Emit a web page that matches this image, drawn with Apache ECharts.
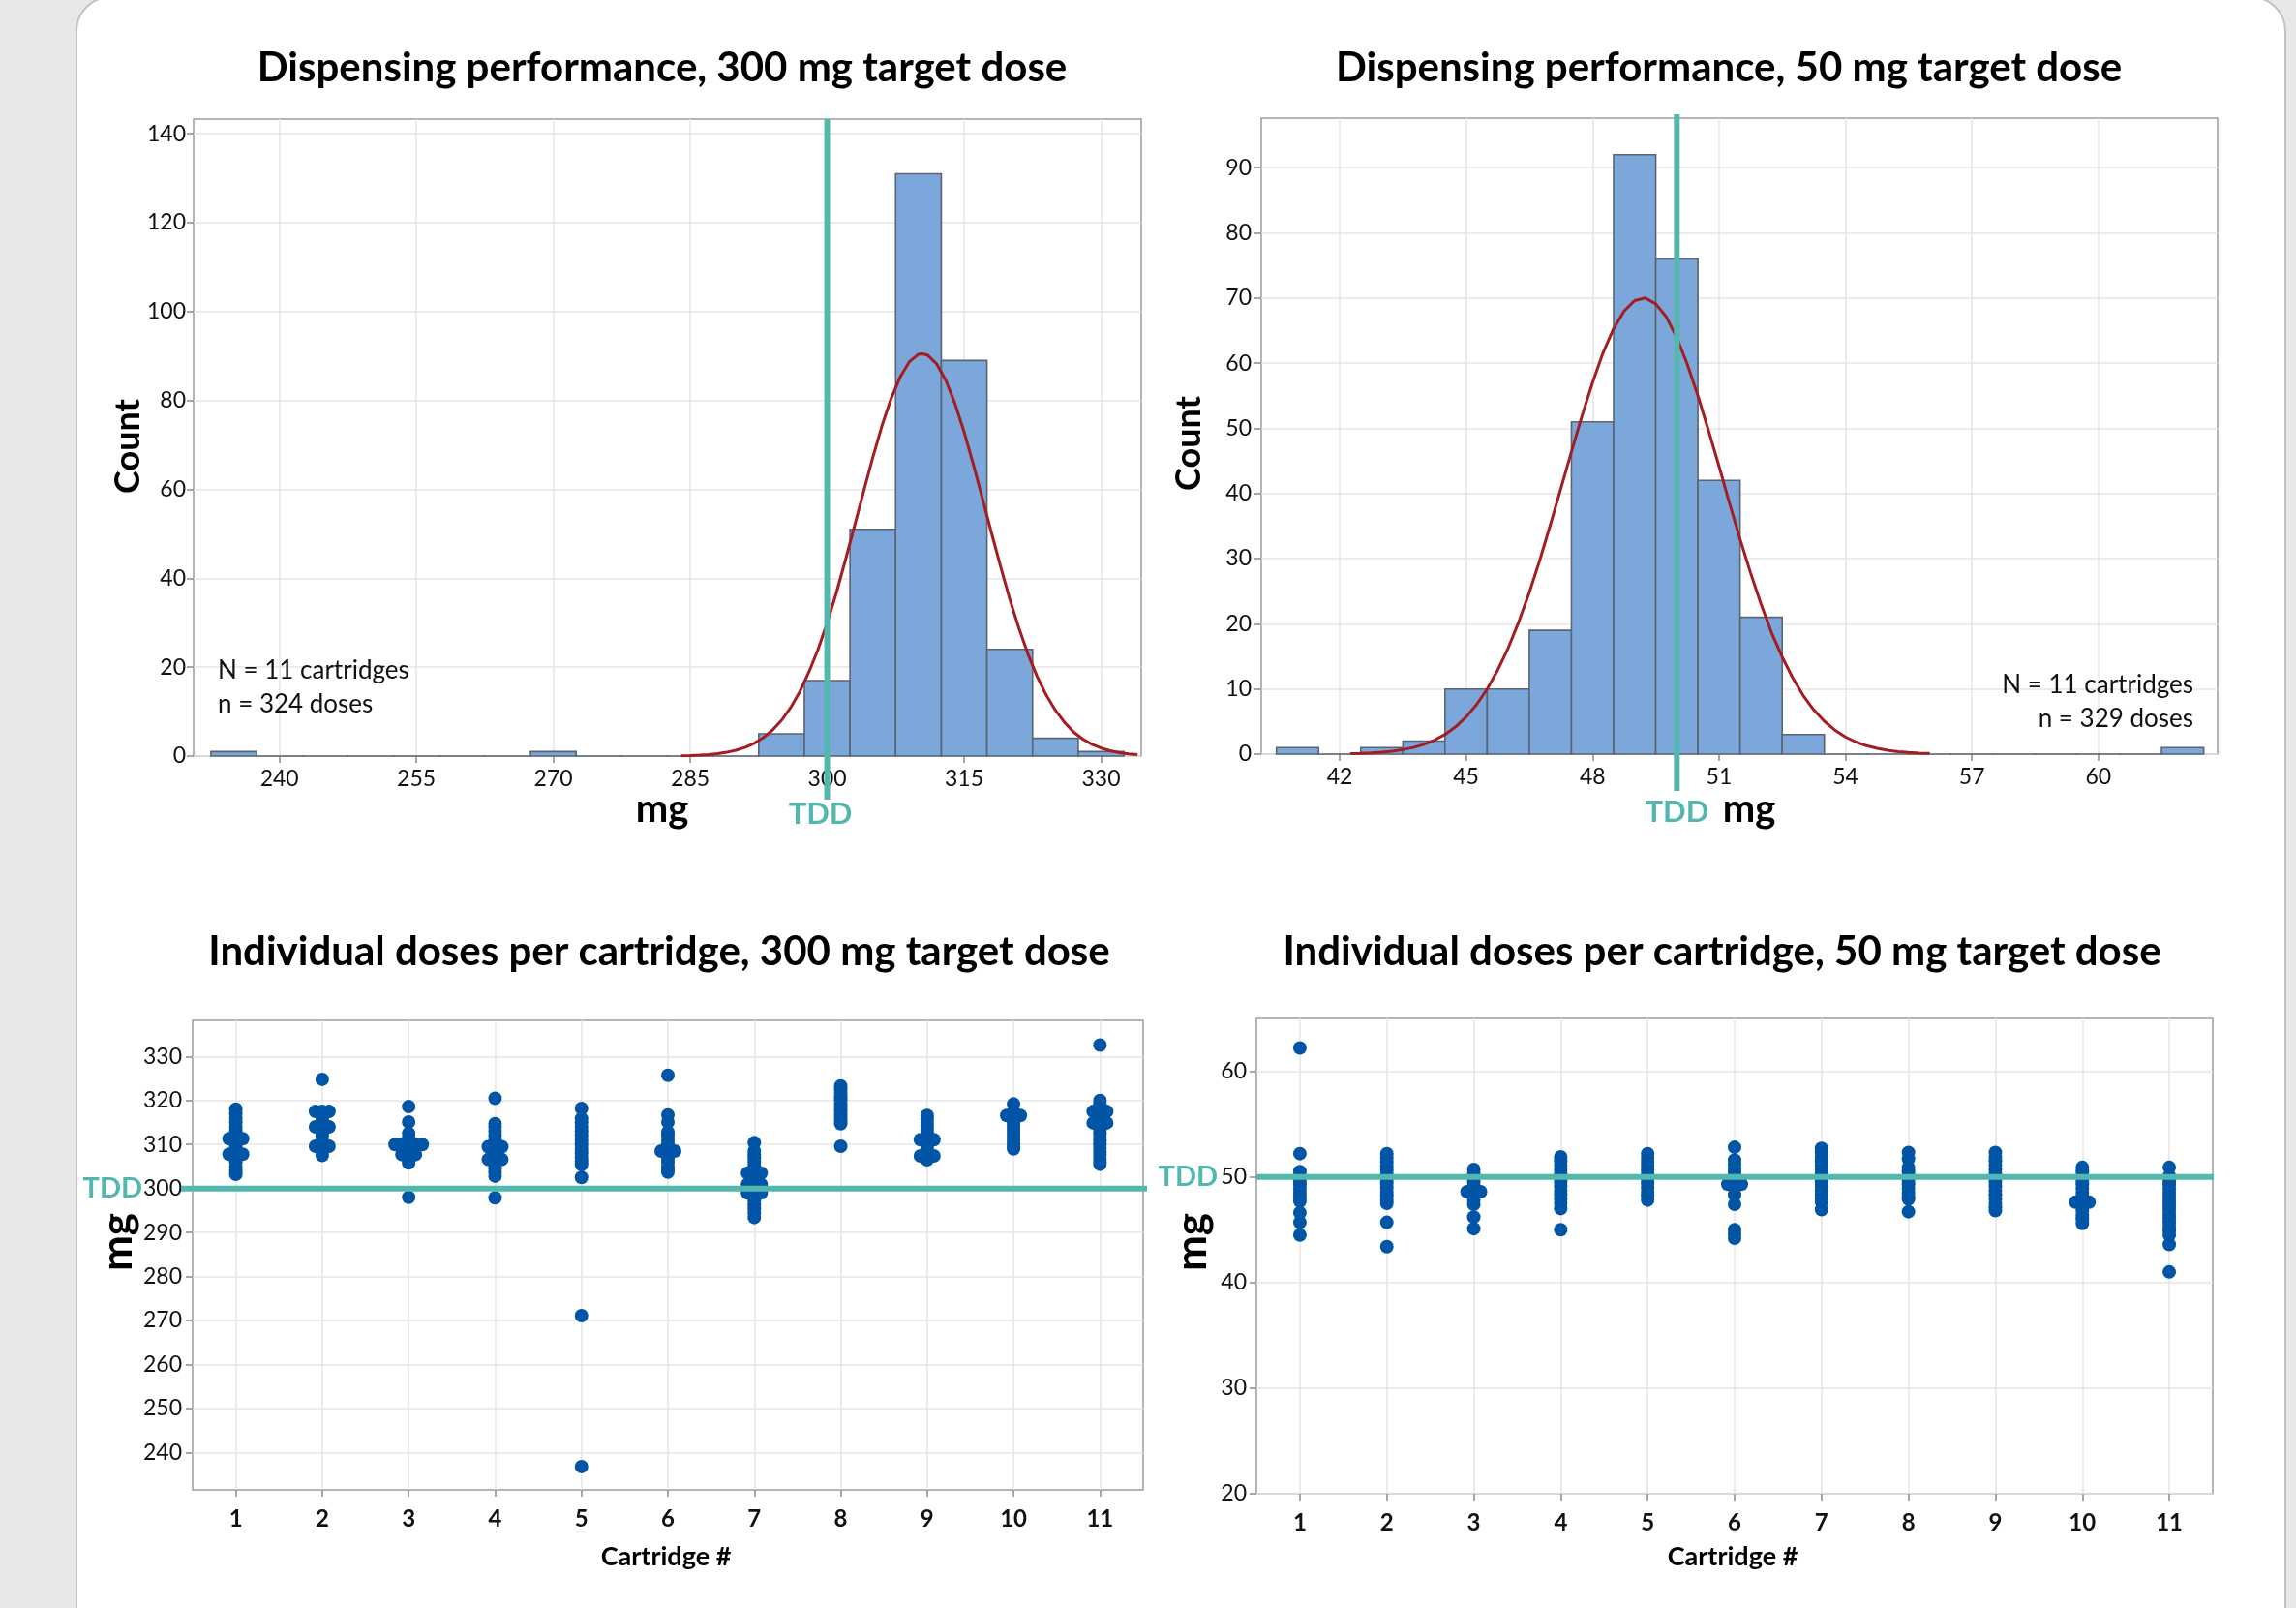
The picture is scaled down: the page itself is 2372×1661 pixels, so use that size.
<!DOCTYPE html>
<html><head><meta charset="utf-8">
<script src="https://cdn.jsdelivr.net/npm/echarts@6/dist/echarts.min.js"></script>
<style>
html,body{margin:0;padding:0;width:2372px;height:1661px;overflow:hidden;background:#e8e8e8;}
#card{position:absolute;left:78px;top:-4px;width:2284px;height:1720px;background:#fff;border:2px solid #c2c2c2;border-radius:36px;box-sizing:border-box;}
#chart{position:absolute;left:0;top:0;width:2372px;height:1661px;}
</style></head><body>
<div id="card"></div><div id="chart"></div>
<script>
// ---------- DATA ----------
// 300 mg histogram (bin centers, counts)
const binCenter300 = [235,240,245,250,255,260,265,270,275,280,285,290,295,300,305,310,315,320,325,330];
const binCount300  = [1,0,0,0,0,0,0,1,0,0,0,0,5,17,51,131,89,24,4,1];
const binWidth300 = 5;
// fitted normal curve
const fitX300 = [284,285,286,287,288,289,290,291,292,293,294,295,296,297,298,299,300,301,302,303,304,305,306,307,308,309,310,310.4,311,312,313,314,315,316,317,318,319,320,321,322,323,324,325,326,327,328,329,330,331,332,333,334];
const fitY300 = [0.07,0.13,0.21,0.34,0.54,0.85,1.3,1.94,2.86,4.12,5.82,8.05,10.9,14.5,18.9,24.0,30.0,36.7,44.1,51.8,59.6,67.2,74.3,80.4,85.3,88.7,90.4,90.5,90.2,88.2,84.5,79.3,72.9,65.7,58.0,50.2,42.6,35.3,28.8,22.9,17.9,13.7,10.3,7.6,5.4,3.8,2.65,1.8,1.19,0.77,0.49,0.31];
const xTicks300 = [240,255,270,285,300,315,330];
const yTicksHist300 = [0,20,40,60,80,100,120,140];

// 50 mg histogram
const binCenter50 = [41,42,43,44,45,46,47,48,49,50,51,52,53,54,55,56,57,58,59,60,61,62];
const binCount50  = [1,0,1,2,10,10,19,51,92,76,42,21,3,0,0,0,0,0,0,0,0,1];
const binWidth50 = 1;
const fitX50 = [42.25,42.5,42.75,43,43.25,43.5,43.75,44,44.25,44.5,44.75,45,45.25,45.5,45.75,46,46.25,46.5,46.75,47,47.25,47.5,47.75,48,48.25,48.5,48.75,49,49.25,49.5,49.75,50,50.25,50.5,50.75,51,51.25,51.5,51.75,52,52.25,52.5,52.75,53,53.25,53.5,53.75,54,54.25,54.5,54.75,55,55.25,55.5,55.75,56];
const fitY50 = [0.07,0.12,0.19,0.30,0.46,0.69,1.02,1.5,2.15,3.02,4.19,5.7,7.61,9.99,12.9,16.3,20.3,24.8,29.8,35.2,40.8,46.4,51.9,57.0,61.6,65.3,68.0,69.6,70.0,69.1,67.1,63.9,59.8,55.0,49.7,44.2,38.5,33.0,27.8,23.0,18.6,14.9,11.7,8.98,6.79,5.05,3.68,2.64,1.86,1.29,0.88,0.59,0.38,0.25,0.16,0.10];
const xTicks50 = [42,45,48,51,54,57,60];
const yTicksHist50 = [0,10,20,30,40,50,60,70,80,90];

const TDD300 = 300;
const TDD50 = 50;

// individual doses per cartridge (repeated values = side-by-side dots)
const cartridges = [1,2,3,4,5,6,7,8,9,10,11];
const doses300 = [
  [318,317,316,315,314,313,312,311.3,311.3,311.3,310.5,309.5,308.5,307.8,307.8,307.8,307,306,305,304,303.2],
  [324.8,317.5,317.5,317.5,316.5,315.5,314,314,314,313,312,311,310.5,309.6,309.6,309.6,308.5,307.5],
  [318.6,315.1,312.5,311.5,310,310,310,310,310,309,308,307.7,307.7,307.7,306.8,305.8,298],
  [320.5,314.7,314,313,312,311,310.3,309.5,309.5,309.5,308.5,307.5,306.6,306.6,306.6,305.5,304.5,303.6,302.8,297.9],
  [318.2,315.9,315,314,313,312,311,310,309,308,307,306.2,305.4,302.5,271.1,236.8],
  [325.7,316.7,315.1,312.8,312,311,310,309.3,308.5,308.5,308.5,307.7,306.8,306,305,304.2,303.7],
  [310.4,308.5,307.7,306.9,306,305.2,304.3,303.5,303.5,303.5,302.5,301.7,300.9,300.9,300.9,300,299,299,299,298.1,297.2,296.3,295.4,294.5,293.4],
  [323.3,322.5,321.7,320.9,320.1,319.3,318.5,317.7,316.9,316.1,315.3,314.7,309.6],
  [316.6,315.7,314.9,314.1,313.3,312.5,311.7,311.1,311.1,311.1,310.3,309.5,308.7,307.9,307.4,307.4,307.4,306.5],
  [319.2,317.5,316.6,316.6,316.6,315.8,315,314.2,313.4,312.6,311.8,311,310.2,309.5,309],
  [332.6,320,319.2,318.4,317.5,317.5,317.5,316.6,315.7,314.9,314.9,314.9,314,313.2,312.4,311.6,310.8,310,309.2,308.4,307.6,306.8,306,305.5]
];
const doses50 = [
  [62.2,52.2,50.5,50.1,49.7,49.3,48.9,48.5,48.1,47.7,46.6,45.7,44.5],
  [52.2,51.8,51.4,51,50.6,50.2,49.8,49.4,49,48.6,48.2,47.8,47.5,45.7,43.4],
  [50.7,50.3,49.9,49.5,49.1,48.6,48.6,48.6,48.2,47.8,47.4,46.2,45.1],
  [51.9,51.5,51.1,50.7,50.3,49.9,49.5,49.1,48.7,48.3,47.9,47.5,47.0,45.0],
  [52.2,51.8,51.4,51,50.6,50.2,49.8,49.4,49,48.6,48.2,47.8],
  [52.8,51.6,51.2,50.8,50.4,50,49.6,49.3,49.3,49.3,48.9,48.3,47.4,45.0,44.6,44.2],
  [52.7,52.3,51.9,51.5,51.1,50.7,50.3,49.9,49.5,49.1,48.7,48.3,47.9,47.6,46.9],
  [52.3,51.7,50.9,50.5,50.1,49.7,49.3,48.9,48.5,48.1,47.9,46.7],
  [52.3,51.9,51.5,51.1,50.7,50.3,49.9,49.5,49.1,48.7,48.3,47.9,47.5,47.1,46.8],
  [50.9,50.5,50.1,49.7,49.3,48.9,48.5,48.1,47.6,47.6,47.6,47.2,46.8,46.4,46.0,45.6],
  [50.9,50.1,49.7,49.3,48.9,48.5,48.1,47.7,47.3,46.9,46.5,46.1,45.7,45.3,44.9,44.5,43.6,41.0]
];
const yTicksDose300 = [240,250,260,270,280,290,300,310,320,330];
const yTicksDose50 = [20,30,40,50,60];

// ---------- STYLE ----------
const FONT = 'Lato, "Open Sans", sans-serif';
const TEAL = '#52b8ad';
const DOT = '#0055a6';
const BAR = '#7ca7da';
const BAR_EDGE = '#5b6471';
const CURVE = '#a31d22';
const GRIDC = '#e6e6e6';

const chart = echarts.init(document.getElementById('chart'), null, {renderer:'canvas'});

function valAxis(idx, min, max, ticks, opts) {
  opts = opts || {};
  return {
    type:'value', gridIndex: idx, min: min, max: max,
    axisLine:{show:false},
    axisTick:{show:true, customValues: ticks, length:7, lineStyle:{color:'#8a8a8a', width:1.5}},
    axisLabel:{customValues: ticks, color:'#111', fontFamily: FONT, fontSize: opts.fontSize || 23,
      fontWeight: opts.fontWeight || 'normal', margin: opts.margin || 10},
    splitLine:{show:true, lineStyle:{color:GRIDC, width:1.5}}
  };
}

function histSeries(idx, centers, counts, width) {
  return {
    type:'custom', xAxisIndex: idx, yAxisIndex: idx, z: 2, silent: true,
    data: centers.map((c,i)=>[c - width/2, c + width/2, counts[i]]),
    encode:{x:[0,1], y:2},
    renderItem: function(params, api) {
      const p0 = api.coord([api.value(0), api.value(2)]);
      const p1 = api.coord([api.value(1), 0]);
      return {type:'rect', shape:{x:p0[0], y:p0[1], width:p1[0]-p0[0], height:Math.max(p1[1]-p0[1],0.01)},
        style:{fill:BAR, stroke:BAR_EDGE, lineWidth:1.6}};
    }
  };
}

function curveSeries(idx, xs, ys) {
  return {type:'line', xAxisIndex: idx, yAxisIndex: idx, z: 3, silent:true, smooth:false, symbol:'none',
    data: xs.map((x,i)=>[x, ys[i]]), lineStyle:{color:CURVE, width:3}};
}

function tddVertical(idx, value, extTop, extBottom, labelDx) {
  return {type:'custom', xAxisIndex: idx, yAxisIndex: idx, z: 10, clip:false, silent:true,
    data:[[value, 0]], encode:{x:0, y:1},
    renderItem: function(params, api) {
      const p = api.coord([api.value(0), 0]);
      const cs = params.coordSys;
      return {type:'group', children:[
        {type:'line', shape:{x1:p[0], y1:cs.y - extTop, x2:p[0], y2:cs.y + cs.height + extBottom},
          style:{stroke:TEAL, lineWidth:6}},
        {type:'text', x:p[0] + labelDx, y:cs.y + cs.height + 60,
          style:{text:'TDD', fill:TEAL, font:'bold 31px ' + FONT, textAlign:'center', textVerticalAlign:'middle'}}
      ]};
    }};
}

function tddHorizontal(idx, value, extLeft, extRight, labelGap) {
  return {type:'custom', xAxisIndex: idx, yAxisIndex: idx, z: 10, clip:false, silent:true,
    data:[[1, value]], encode:{x:0, y:1},
    renderItem: function(params, api) {
      const p = api.coord([1, api.value(1)]);
      const cs = params.coordSys;
      return {type:'group', children:[
        {type:'line', shape:{x1:cs.x - extLeft, y1:p[1], x2:cs.x + cs.width + extRight, y2:p[1]},
          style:{stroke:TEAL, lineWidth:6}},
        {type:'text', x:cs.x - labelGap, y:p[1],
          style:{text:'TDD', fill:TEAL, font:'bold 29px ' + FONT, textAlign:'right', textVerticalAlign:'middle'}}
      ]};
    }};
}

function dotSeries(idx, doses) {
  const out = [];
  doses.forEach(function(vals, ci) {
    const counts = {};
    vals.forEach(function(v){ counts[v] = (counts[v] || 0) + 1; });
    const seen = {};
    vals.forEach(function(v) {
      const n = counts[v]; const k = seen[v] || 0; seen[v] = k + 1;
      out.push({value:[cartridges[ci], v], symbolOffset:[(k - (n - 1) / 2) * 7, 0]});
    });
  });
  return {type:'scatter', xAxisIndex: idx, yAxisIndex: idx, z: 4, silent:true,
    symbol:'circle', symbolSize:14, itemStyle:{color:DOT, opacity:1}, data: out};
}

function txt(x, y, text, font, opts) {
  opts = opts || {};
  return {type:'text', x:x, y:y, rotation: opts.rotation || 0, silent:true, z:100,
    style:{text:text, fill: opts.fill || '#000', font: font, textAlign: opts.align || 'center', textVerticalAlign:'middle'}};
}

const option = {
  animation:false,
  backgroundColor:'transparent',
  grid:[
    {left:200, top:123, width:979, height:658, show:true, borderColor:'#9d9d9d', borderWidth:1.5, backgroundColor:'transparent'},
    {left:1303, top:122, width:988, height:657, show:true, borderColor:'#9d9d9d', borderWidth:1.5, backgroundColor:'transparent'},
    {left:199, top:1054, width:982, height:485, show:true, borderColor:'#9d9d9d', borderWidth:1.5, backgroundColor:'transparent'},
    {left:1298, top:1052, width:988, height:491, show:true, borderColor:'#9d9d9d', borderWidth:1.5, backgroundColor:'transparent'}
  ],
  xAxis:[
    valAxis(0, 230.6, 334.4, xTicks300, {margin:12}),
    valAxis(1, 40.14, 62.83, xTicks50, {margin:12}),
    valAxis(2, 0.5, 11.5, cartridges, {fontWeight:'bold', fontSize:24, margin:18}),
    valAxis(3, 0.5, 11.5, cartridges, {fontWeight:'bold', fontSize:24, margin:18})
  ],
  yAxis:[
    valAxis(0, 0, 143.3, yTicksHist300, {margin:8}),
    valAxis(1, 0, 97.6, yTicksHist50, {margin:10}),
    valAxis(2, 231.5, 338.2, yTicksDose300, {margin:11}),
    valAxis(3, 20, 65, yTicksDose50, {margin:10})
  ],
  series:[
    histSeries(0, binCenter300, binCount300, binWidth300),
    curveSeries(0, fitX300, fitY300),
    tddVertical(0, TDD300, 0, 45, -7),
    histSeries(1, binCenter50, binCount50, binWidth50),
    curveSeries(1, fitX50, fitY50),
    tddVertical(1, TDD50, 4, 38, 0),
    dotSeries(2, doses300),
    tddHorizontal(2, TDD300, 12, 4, 52),
    dotSeries(3, doses50),
    tddHorizontal(3, TDD50, 0, 1, 40)
  ],
  graphic:[
    txt(684, 70, 'Dispensing performance, 300 mg target dose', 'bold 42px ' + FONT),
    txt(1786, 70, 'Dispensing performance, 50 mg target dose', 'bold 42px ' + FONT),
    txt(681, 983, 'Individual doses per cartridge, 300 mg target dose', 'bold 42px ' + FONT),
    txt(1779, 983, 'Individual doses per cartridge, 50 mg target dose', 'bold 42px ' + FONT),
    txt(132, 461, 'Count', 'bold 36px ' + FONT, {rotation: Math.PI / 2}),
    txt(1228, 458, 'Count', 'bold 36px ' + FONT, {rotation: Math.PI / 2}),
    txt(684, 836, 'mg', 'bold 40px ' + FONT),
    txt(1807, 836, 'mg', 'bold 40px ' + FONT),
    txt(122, 1283, 'mg', 'bold 44px ' + FONT, {rotation: Math.PI / 2}),
    txt(1232, 1283, 'mg', 'bold 44px ' + FONT, {rotation: Math.PI / 2}),
    txt(688, 1608, 'Cartridge #', 'bold 27px ' + FONT),
    txt(1790, 1608, 'Cartridge #', 'bold 27px ' + FONT),
    txt(225, 693, 'N = 11 cartridges', '26px ' + FONT, {align:'left', fill:'#111'}),
    txt(225, 728, 'n = 324 doses', '26px ' + FONT, {align:'left', fill:'#111'}),
    txt(2266, 708, 'N = 11 cartridges', '26px ' + FONT, {align:'right', fill:'#111'}),
    txt(2266, 743, 'n = 329 doses', '26px ' + FONT, {align:'right', fill:'#111'})
  ]
};
chart.setOption(option);
</script></body></html>
